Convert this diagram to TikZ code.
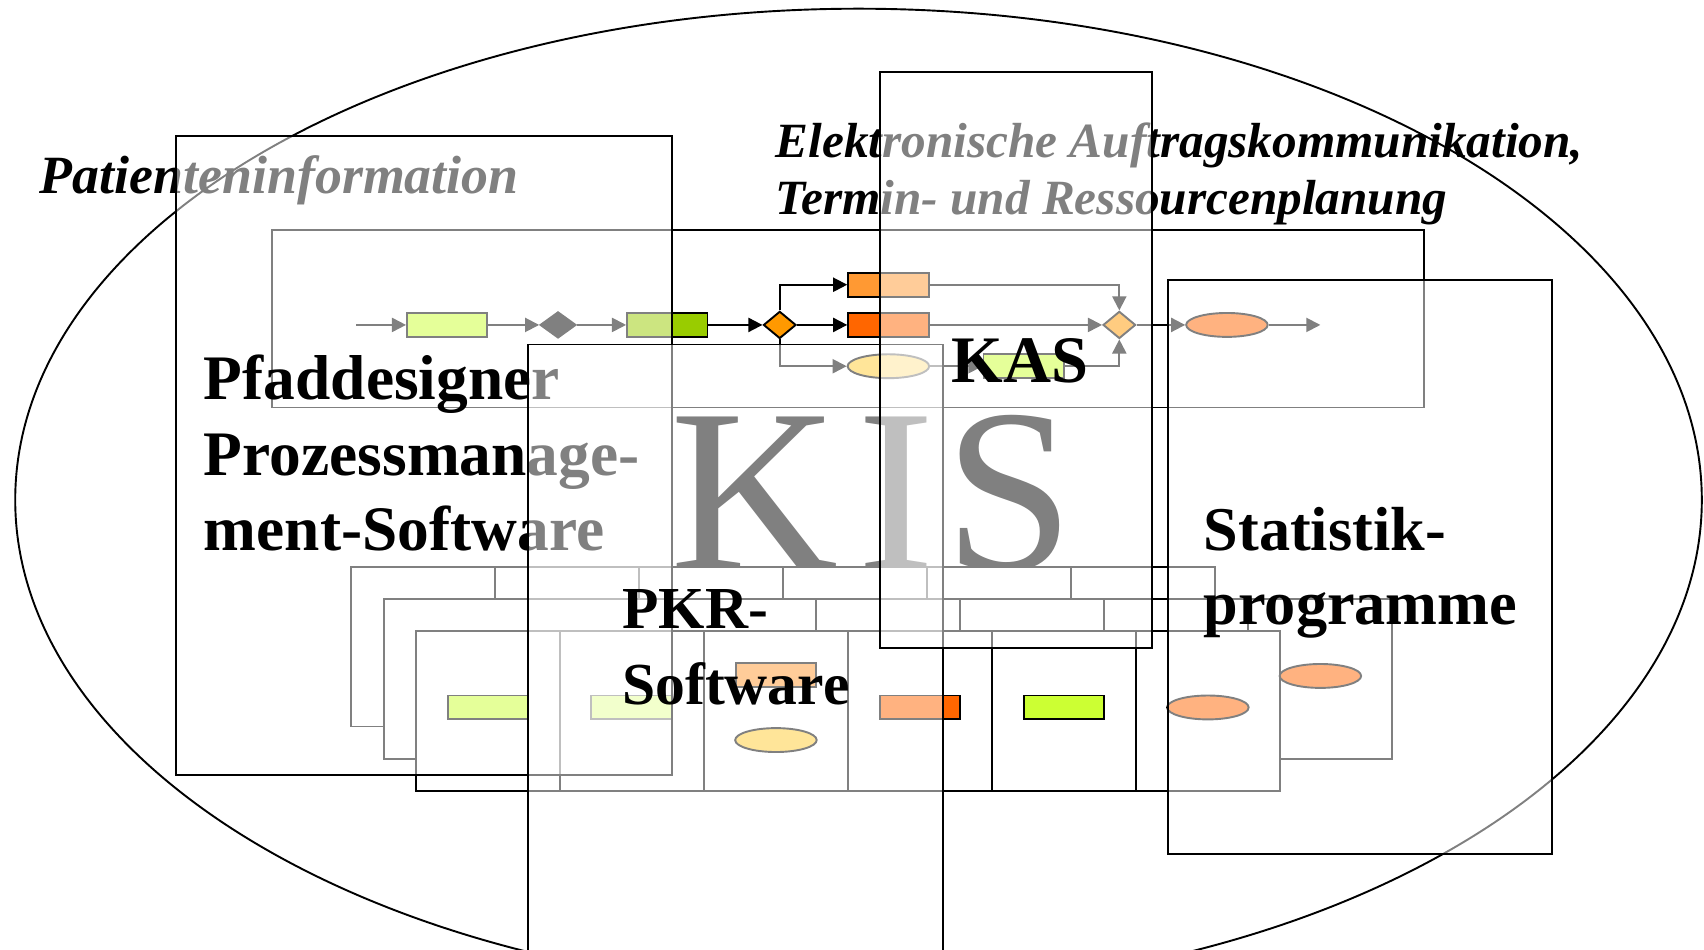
\documentclass[tikz,border=0pt]{standalone}
\usepackage{fontspec}
\setmainfont{Liberation Serif}
\usetikzlibrary{positioning,shapes.geometric,arrows.meta}
\definecolor{limc}{HTML}{CCFF33}
\definecolor{leafc}{HTML}{99CC00}
\definecolor{ambc}{HTML}{FF9900}
\definecolor{orc}{HTML}{FF9933}
\definecolor{dorc}{HTML}{FF6600}
\definecolor{sandc}{HTML}{FFCC33}

\begin{document}
\begin{tikzpicture}[x=0.1mm, y=-0.1mm, node distance=10mm,
    panel/.style={rectangle, draw, line width=0.5pt, fill=white, fill opacity=0.5, inner sep=0pt},
    task/.style={rectangle, draw, line width=0.5pt, minimum width=7.4mm, minimum height=2.2mm, inner sep=0pt},
    event/.style={ellipse, draw, line width=0.5pt, minimum width=7.5mm, minimum height=2.2mm, inner sep=0pt},
    gate/.style={diamond, draw, line width=0.5pt, minimum width=3mm, minimum height=2.5mm, inner sep=0pt},
    cell/.style={rectangle, draw, line width=0.5pt, fill=white, minimum width=13.25mm, minimum height=14.7mm, inner sep=0pt},
    flow/.style={-{Triangle[length=1.3mm, width=1.3mm]}, line width=0.5pt},
    label/.style={anchor=base west, inner sep=0pt}]

    \path[use as bounding box, clip] (0,0) rectangle (1568,874);

    \draw[line width=0.5pt] (790,460) ellipse [x radius=77.6mm, y radius=45.2mm];

    \node[label, font=\fontsize{14.1}{17}\selectfont\bfseries\itshape] (pinfo) at (36,178) {Patienteninformation};
    \node[label, font=\fontsize{12.9}{15}\selectfont\bfseries\itshape] (auftragA) at (713,145) {Elektronische Auftragskommunikation,};
    \node[label, font=\fontsize{12.9}{15}\selectfont\bfseries\itshape] (auftragB) at (713,197) {Termin- und Ressourcenplanung};

    \node[rectangle, draw, line width=0.5pt, minimum width=106mm, minimum height=16.3mm] (pathbox) at (780,293.5) {};

    \node[coordinate] (start) at (328,299) {};
    \node[task, fill=limc, right of=start, node distance=8.35mm] (t1) {};
    \node[gate, fill=black, right of=t1, node distance=10.2mm, minimum width=3.3mm, minimum height=2.4mm] (g1) {};
    \node[task, fill=leafc, right of=g1, node distance=10.05mm] (t2) {};
    \node[gate, fill=ambc, right of=t2, node distance=10.35mm] (g2) {};
    \node[task, fill=dorc, right of=g2, node distance=10mm] (t4) {};
    \node[task, fill=orc, above of=t4, node distance=3.7mm] (t3) {};
    \node[event, fill=sandc, below of=t4, node distance=3.8mm] (e1) {};
    \node[task, fill=limc, right of=e1, node distance=12.45mm] (t5) {};
    \node[gate, fill=ambc, right of=t4, node distance=21.25mm] (g3) {};
    \node[event, fill=dorc, right of=g3, node distance=9.9mm] (e2) {};
    \node[coordinate, right of=e2, node distance=8.6mm] (finish) {};

    \draw[flow] (start) -- (t1);
    \draw[flow] (t1) -- (g1);
    \draw[flow] (g1) -- (t2);
    \draw[flow] (t2) -- (g2);
    \draw[flow] (g2) -- (t4);
    \draw[flow] (g2.north) |- (t3);
    \draw[flow] (g2.south) |- (e1);
    \draw[flow] (t3) -| (g3.north);
    \draw[flow] (t4) -- (g3);
    \draw[flow] (e1) -- (t5);
    \draw[flow] (t5) -| (g3.south);
    \draw[flow] (g3) -- (e2);
    \draw[flow] (e2) -- (finish);

    \node[label, font=\fontsize{61}{61}\selectfont] (kis) at (616,524) {K\kern5pt I\kern2.5pt S};

    \foreach \i in {0,...,5}
        \node[cell] (back\i) at ({389.25+132.5*\i},595) {};
    \foreach \i in {0,...,6}
        \node[cell] (mid\i) at ({419.75+132.5*\i},625) {};
    \foreach \i in {0,...,5}
        \node[cell] (front\i) at ({449.25+132.5*\i},654) {};

    \node[event, fill=dorc] (m6event) at (1215,622) {};
    \node[task, fill=limc] (f0task) at (449,651) {};
    \node[task, fill=limc] (f1task) at (581,651) {};
    \node[task, fill=orc] (f2task) at (714,621) {};
    \node[event, fill=sandc] (f2event) at (714,681) {};
    \node[task, fill=dorc] (f3task) at (846.5,651) {};
    \node[task, fill=limc] (f4task) at (979,651) {};
    \node[event, fill=dorc] (f5event) at (1111.5,651) {};

    \node[panel, minimum width=45.6mm, minimum height=58.8mm] (pfadbox) at (390,419) {};
    \node[label, font=\fontsize{16.6}{20}\selectfont\bfseries] (pfadA) at (187,368) {Pfaddesigner};
    \node[label, font=\fontsize{16.6}{20}\selectfont\bfseries] (pfadB) at (187,438) {Prozessmanage-};
    \node[label, font=\fontsize{16.6}{20}\selectfont\bfseries] (pfadC) at (187,507) {ment-Software};

    \node[panel, minimum width=38.2mm, minimum height=58.3mm] (pkrbox) at (677,608.5) {};
    \node[label, font=\fontsize{15.6}{19}\selectfont\bfseries] (pkrA) at (572,578) {PKR-};
    \node[label, font=\fontsize{15.6}{19}\selectfont\bfseries] (pkrB) at (572,648) {Software};

    \node[panel, minimum width=25mm, minimum height=53mm] (kasbox) at (935,331) {};
    \node[label, font=\fontsize{17.4}{21}\selectfont\bfseries] (kas) at (875,352) {KAS};

    \node[panel, minimum width=35.3mm, minimum height=52.8mm] (statbox) at (1251.5,522) {};
    \node[label, font=\fontsize{16.3}{20}\selectfont\bfseries] (statA) at (1107,507) {Statistik-};
    \node[label, font=\fontsize{16.3}{20}\selectfont\bfseries] (statB) at (1107,575) {programme};

\end{tikzpicture}
\end{document}
